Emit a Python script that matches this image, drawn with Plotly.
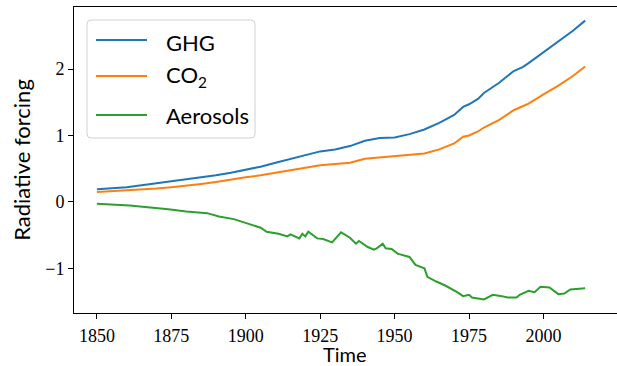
import plotly.graph_objects as go

ghg_years = [1850, 1855, 1860, 1865, 1870, 1875, 1880, 1885, 1890, 1895, 1900, 1905, 1910,
             1915, 1920, 1925, 1930, 1935, 1940, 1945, 1950, 1955, 1960, 1965, 1970, 1973,
             1975, 1978, 1980, 1985, 1990, 1993, 1995, 2000, 2005, 2010, 2014]
ghg_vals = [0.19, 0.20, 0.22, 0.25, 0.28, 0.31, 0.33, 0.36, 0.40, 0.44, 0.48, 0.53, 0.59,
            0.65, 0.71, 0.76, 0.79, 0.84, 0.92, 0.96, 0.97, 1.02, 1.09, 1.19, 1.31, 1.43,
            1.47, 1.55, 1.64, 1.79, 1.97, 2.03, 2.09, 2.25, 2.41, 2.58, 2.73]

co2_years = [1850, 1860, 1870, 1875, 1880, 1885, 1890, 1895, 1900, 1905, 1910, 1915, 1920,
             1925, 1930, 1935, 1940, 1945, 1950, 1955, 1960, 1965, 1970, 1973, 1975, 1978,
             1980, 1985, 1990, 1993, 1995, 2000, 2005, 2010, 2014]
co2_vals = [0.15, 0.17, 0.20, 0.22, 0.24, 0.27, 0.30, 0.34, 0.37, 0.40, 0.44, 0.48, 0.52,
            0.55, 0.57, 0.59, 0.65, 0.67, 0.68, 0.70, 0.73, 0.79, 0.88, 0.98, 1.00, 1.06,
            1.12, 1.23, 1.38, 1.44, 1.48, 1.62, 1.75, 1.90, 2.04]

aer_years = [1850, 1861, 1874, 1880, 1887, 1891, 1896, 1900, 1905, 1907, 1911, 1914, 1915,
             1918, 1919, 1920, 1921, 1924, 1926, 1929, 1932, 1935, 1937, 1938, 1941, 1943,
             1944, 1946, 1947, 1949, 1951, 1955, 1957, 1960, 1961, 1964, 1967, 1971, 1973,
             1975, 1976, 1980, 1983, 1986, 1988, 1991, 1992, 1995, 1997, 1999, 2002, 2005,
             2007, 2009, 2012, 2014]
aer_vals = [-0.03, -0.055, -0.11, -0.146, -0.17, -0.22, -0.26, -0.32, -0.39, -0.45, -0.48,
            -0.52, -0.49, -0.55, -0.48, -0.52, -0.45, -0.55, -0.56, -0.61, -0.46, -0.54,
            -0.63, -0.59, -0.68, -0.72, -0.70, -0.63, -0.70, -0.71, -0.78, -0.83, -0.95,
            -1.00, -1.13, -1.20, -1.26, -1.36, -1.42, -1.40, -1.44, -1.47, -1.40, -1.42,
            -1.44, -1.44, -1.40, -1.34, -1.36, -1.28, -1.29, -1.39, -1.38, -1.32, -1.31, -1.30]

legend_labels = ["GHG", "CO<sub>2</sub>", "Aerosols"]
colors = ["#1f77b4", "#ff7f0e", "#2ca02c"]

W, H = 617, 366
L, T, B, R = 74, 7, 313, 617

fig = go.Figure()
for xs, ys, c in [(ghg_years, ghg_vals, colors[0]), (co2_years, co2_vals, colors[1]),
                  (aer_years, aer_vals, colors[2])]:
    fig.add_trace(go.Scatter(x=xs, y=ys, mode="lines", line=dict(color=c, width=2),
                             showlegend=False))

def px(x):
    return (x - L) / (R - L)

def py(y):
    return (B - y) / (B - T)

# legend box (rounded rect) built in paper coords from pixel positions
x0, x1, y0, y1, r = 87, 255, 20, 138, 4
path = (f"M {px(x0+r)},{py(y0)} L {px(x1-r)},{py(y0)} Q {px(x1)},{py(y0)} {px(x1)},{py(y0+r)} "
        f"L {px(x1)},{py(y1-r)} Q {px(x1)},{py(y1)} {px(x1-r)},{py(y1)} "
        f"L {px(x0+r)},{py(y1)} Q {px(x0)},{py(y1)} {px(x0)},{py(y1-r)} "
        f"L {px(x0)},{py(y0+r)} Q {px(x0)},{py(y0)} {px(x0+r)},{py(y0)} Z")
shapes = [dict(type="path", path=path, xref="paper", yref="paper",
               line=dict(color="#d0d0d0", width=1), fillcolor="rgba(255,255,255,0.8)")]
entry_y = [40, 76, 115]
text_y = [42, 76, 116]
annotations = []
for lab, c, ly, ty in zip(legend_labels, colors, entry_y, text_y):
    shapes.append(dict(type="line", xref="paper", yref="paper", x0=px(96), x1=px(147),
                       y0=py(ly), y1=py(ly), line=dict(color=c, width=2)))
    annotations.append(dict(text=lab, xref="paper", yref="paper", x=px(164), y=py(ty),
                            xanchor="left", yanchor="middle", showarrow=False,
                            font=dict(family="Lato", size=22, color="black")))

# x-axis title placed as annotation under the tick labels
annotations.append(dict(text="Time", xref="paper", yref="paper", x=px(345), y=py(365),
                        xanchor="center", yanchor="bottom", showarrow=False,
                        height=20, borderpad=0,
                        font=dict(family="Lato", size=20, color="black")))

fig.update_layout(
    width=W, height=H,
    margin=dict(l=L, r=W - R, t=T, b=H - B),
    plot_bgcolor="white", paper_bgcolor="white",
    shapes=shapes, annotations=annotations,
    xaxis=dict(range=[1842.3, 2024.7], tickvals=[1850, 1875, 1900, 1925, 1950, 1975, 2000],
               showgrid=False, zeroline=False, showline=True, linecolor="black", linewidth=1,
               mirror=True, ticks="outside", ticklen=5, tickcolor="black",
               ticklabelstandoff=1,
               tickfont=dict(family="Liberation Serif", size=18, color="black")),
    yaxis=dict(range=[-1.674, 2.935], tickvals=[-1, 0, 1, 2],
               showgrid=False, zeroline=False, showline=True, linecolor="black", linewidth=1,
               ticks="outside", ticklen=5, tickcolor="black",
               tickfont=dict(family="Liberation Serif", size=18, color="black"),
               title=dict(text="Radiative forcing", font=dict(family="Lato", size=22, color="black"),
                          standoff=8)),
)

fig.write_html("out.html")
